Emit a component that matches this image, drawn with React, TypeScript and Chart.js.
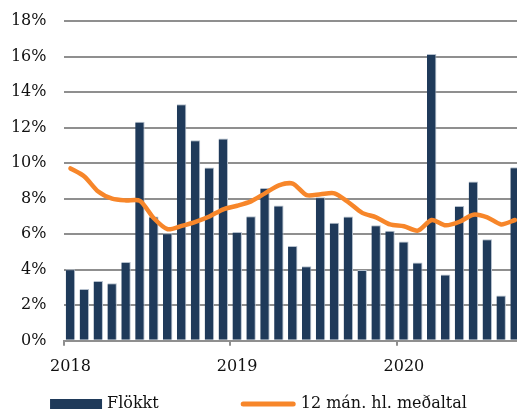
import React, { useEffect, useRef } from 'react';
import { Chart, registerables } from 'chart.js';

Chart.register(...registerables);

const months = [
  '2018-01', '2018-02', '2018-03', '2018-04', '2018-05', '2018-06', '2018-07', '2018-08', '2018-09', '2018-10', '2018-11', '2018-12',
  '2019-01', '2019-02', '2019-03', '2019-04', '2019-05', '2019-06', '2019-07', '2019-08', '2019-09', '2019-10', '2019-11', '2019-12',
  '2020-01', '2020-02', '2020-03', '2020-04', '2020-05', '2020-06', '2020-07', '2020-08', '2020-09',
];

const flokkt = [
  4.03, 2.92, 3.37, 3.24, 4.43, 12.33, 6.99, 6.06, 13.31, 11.29, 9.75, 11.38,
  6.13, 7.01, 8.6, 7.61, 5.34, 4.2, 8.08, 6.64, 6.99, 3.98, 6.5, 6.19,
  5.59, 4.41, 16.14, 3.73, 7.59, 8.96, 5.72, 2.55, 9.77,
];

const avg12 = [
  9.7, 9.25, 8.4, 8.0, 7.9, 7.88, 6.9, 6.28, 6.47, 6.7, 7.0, 7.4,
  7.6, 7.85, 8.3, 8.75, 8.85, 8.2, 8.25, 8.3, 7.8, 7.2, 6.95, 6.55,
  6.45, 6.2, 6.8, 6.5, 6.7, 7.1, 6.95, 6.55, 6.8,
];

const seriesNames = ['Flökkt', '12 mán. hl. meðaltal'];
const yTicks = [0, 2, 4, 6, 8, 10, 12, 14, 16, 18];

const NAVY = '#1f3a5a';
const ORANGE = '#f7862a';
const GRID = '#8f8f8f';
const TEXT = '#111111';
const FONT_FAMILY = '"DejaVu Serif", serif';
const VIEW_W = 517;
const VIEW_H = 412;
const CANVAS_W = 522;

const legendPlugin = {
  id: 'customLegend',
  afterDraw(chart: any) {
    const ctx = chart.ctx as CanvasRenderingContext2D;
    const ds = chart.data.datasets;
    ctx.save();
    ctx.font = `16px ${FONT_FAMILY}`;
    ctx.textBaseline = 'middle';
    ctx.fillStyle = TEXT;
    const boxW = 52;
    const lineW = 55;
    const gapText = 5;
    const gapItems = 82;
    const t1 = ctx.measureText(ds[0].label).width;
    const t2 = ctx.measureText(ds[1].label).width;
    const total = boxW + gapText + t1 + gapItems + lineW + gapText + t2;
    let x = (VIEW_W - total) / 2;
    const cy = 404;
    ctx.fillStyle = NAVY;
    ctx.fillRect(x, cy - 5, boxW, 10);
    x += boxW + gapText;
    ctx.fillStyle = TEXT;
    ctx.fillText(ds[0].label, x, cy);
    x += t1 + gapItems;
    ctx.strokeStyle = ORANGE;
    ctx.lineWidth = 5;
    ctx.lineCap = 'round';
    ctx.beginPath();
    ctx.moveTo(x + 2.5, cy);
    ctx.lineTo(x + lineW - 2.5, cy);
    ctx.stroke();
    x += lineW + gapText;
    ctx.fillStyle = TEXT;
    ctx.fillText(ds[1].label, x, cy);
    ctx.restore();
  },
};

export default function App() {
  const ref = useRef<HTMLCanvasElement | null>(null);

  useEffect(() => {
    document.body.style.margin = '0';
    const canvas = ref.current;
    if (!canvas) return;
    const font = { family: FONT_FAMILY, size: 16 };
    const chart = new Chart(canvas, {
      type: 'bar',
      data: {
        labels: months,
        datasets: [
          {
            type: 'bar',
            label: seriesNames[0],
            data: flokkt,
            backgroundColor: NAVY,
            borderColor: '#b4bfcc',
            borderWidth: { top: 1, right: 1, left: 0, bottom: 0 },
            borderSkipped: 'bottom',
            barPercentage: 0.68,
            categoryPercentage: 1,
            order: 2,
          },
          {
            type: 'line',
            label: seriesNames[1],
            data: avg12,
            borderColor: ORANGE,
            backgroundColor: ORANGE,
            borderWidth: 4.5,
            pointRadius: 0,
            tension: 0.25,
            borderCapStyle: 'round',
            borderJoinStyle: 'round',
            order: 1,
          },
        ],
      } as any,
      options: {
        animation: false,
        responsive: false,
        layout: { padding: { top: 21, left: 0, right: 0, bottom: 25 } },
        plugins: {
          legend: { display: false },
          tooltip: { enabled: false },
        },
        scales: {
          x: {
            type: 'category',
            offset: true,
            afterFit: (s: any) => {
              s.paddingLeft = 0;
              s.paddingRight = 0;
            },
            grid: {
              display: true,
              drawOnChartArea: false,
              drawTicks: true,
              tickLength: 5,
              offset: true,
              lineWidth: 2,
              color: (c: any) =>
                c.tick && months[c.index] && months[c.index].endsWith('-01') ? GRID : 'rgba(0,0,0,0)',
            },
            border: { display: true, color: GRID, width: 2 },
            ticks: {
              autoSkip: false,
              maxRotation: 0,
              minRotation: 0,
              padding: 11,
              font,
              color: TEXT,
              callback: (_v: any, i: number) => (months[i].endsWith('-01') ? months[i].slice(0, 4) : ''),
            },
          },
          y: {
            min: yTicks[0],
            max: yTicks[yTicks.length - 1],
            afterBuildTicks: (s: any) => {
              s.ticks = yTicks.map((v) => ({ value: v }));
            },
            afterFit: (s: any) => {
              s.width = 63.5;
              s.paddingTop = 0;
              s.paddingBottom = 0;
            },
            grid: { color: GRID, lineWidth: 2, drawTicks: false },
            border: { display: false },
            ticks: {
              padding: 17,
              font,
              color: TEXT,
              callback: (v: any) => `${v}%`,
            },
          },
        },
      } as any,
      plugins: [legendPlugin],
    });
    return () => chart.destroy();
  }, []);

  return (
    <div style={{ position: 'absolute', left: 0, top: 0, width: VIEW_W, height: VIEW_H, overflow: 'hidden' }}>
      <canvas ref={ref} width={CANVAS_W} height={VIEW_H} />
    </div>
  );
}
